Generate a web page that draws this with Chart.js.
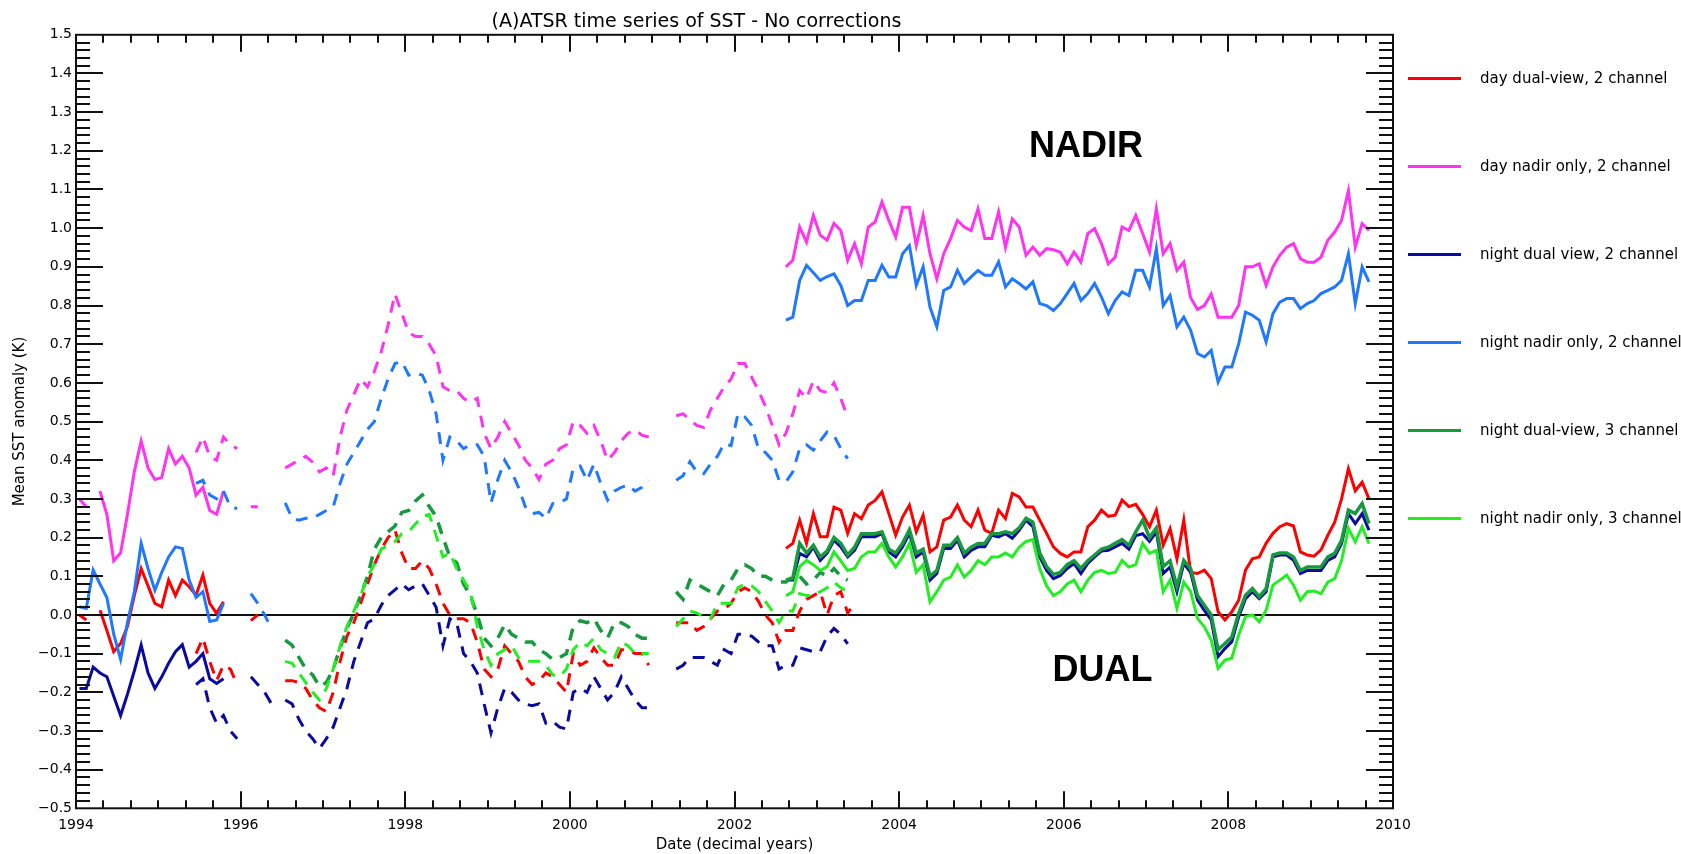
<!DOCTYPE html>
<html>
<head>
<meta charset="utf-8">
<title>(A)ATSR time series of SST - No corrections</title>
<script src="https://cdn.jsdelivr.net/npm/chart.js@4.4.1/dist/chart.umd.min.js"></script>
<style>
    html, body { margin: 0; padding: 0; background: #fff; }
    #wrap { position: relative; width: 1681px; height: 854px; }
    #chart { position: absolute; left: 0; top: 0; }
    .item { position: absolute; left: 1408px; display: flex; align-items: center; transform: translateY(-50%); }
    .swatch { width: 53px; height: 3px; margin-right: 19px; }
    .txt { font: 15px "DejaVu Sans", sans-serif; color: #000; white-space: nowrap; }
</style>
</head>
<body>
<div id="wrap">
    <canvas id="chart" width="1681" height="854"></canvas>
    <div id="legend"></div>
</div>
<script>
// series names and colours, in legend order
const seriesNames = [
    'day dual-view, 2 channel',
    'day nadir only, 2 channel',
    'night dual view, 2 channel',
    'night nadir only, 2 channel',
    'night dual-view, 3 channel',
    'night nadir only, 3 channel'
];
const seriesColors = ['#ff0000', '#ff33f0', '#0a0a9e', '#1f78ff', '#17993f', '#22ee22'];

// ATSR-1, monthly from Jan 1994 (22 months)
const dayDual1 = [0.0, -0.013, null, 0.012, -0.04, -0.095, -0.074, -0.03, 0.05, 0.12, 0.075, 0.03,
    0.021, 0.09, 0.05, 0.09, 0.073, 0.051, 0.103, 0.03, 0.004, 0.034];
const dayNadir1 = [0.30, 0.28, null, 0.32, 0.26, 0.14, 0.16, 0.26, 0.37, 0.45, 0.38, 0.35,
    0.355, 0.43, 0.39, 0.41, 0.38, 0.31, 0.33, 0.27, 0.26, 0.32];
const nightDual1 = [-0.19, -0.19, -0.135, -0.15, -0.16, -0.21, -0.26, -0.205, -0.145, -0.078, -0.15, -0.19,
    -0.16, -0.125, -0.095, -0.077, -0.135, -0.12, -0.10, -0.165, -0.177, -0.165];
const nightNadir1 = [0.021, 0.017, 0.116, 0.08, 0.045, -0.05, -0.115, -0.02, 0.06, 0.185, 0.12, 0.064,
    0.11, 0.15, 0.176, 0.172, 0.09, 0.045, 0.06, -0.017, -0.013, 0.03];

// ATSR-2, monthly from Jun 1995 to Jun 2003 (97 months)
const dayDual2 = [
    -0.10, -0.06, -0.12, -0.17, -0.13, -0.14, -0.18,
    null, -0.015, 0.0, null, null, null, -0.17, -0.17, -0.175, -0.19, -0.22, -0.24,
    -0.25, -0.20, -0.12, -0.055, -0.02, 0.03, 0.08, 0.13, 0.17, 0.20, 0.22, 0.16,
    0.12, 0.12, 0.14, 0.12, 0.08, 0.03, 0.0, -0.01, -0.01, -0.02, -0.07, -0.14,
    -0.16, -0.14, -0.08, -0.10, -0.12, -0.16, -0.18, -0.17, -0.15, -0.16, -0.18, -0.20,
    -0.10, -0.13, -0.12, -0.085, -0.11, -0.13, -0.13, -0.09, -0.09, -0.10, -0.10, -0.13,
    null, null, null, -0.02, -0.02, -0.02, -0.04, -0.03, -0.01, 0.01, 0.015, 0.03,
    0.06, 0.07, 0.06, 0.035, 0.0, -0.02, -0.07, -0.04, -0.04, 0.01, 0.04, 0.05,
    0.06, 0.0, 0.05, 0.06, 0.005, 0.03
];
const dayNadir2 = [
    0.42, 0.46, 0.41, 0.40, 0.46, 0.44, 0.43,
    null, 0.28, 0.28, null, null, null, 0.38, 0.39, 0.40, 0.41, 0.395, 0.37,
    0.38, 0.36, 0.46, 0.53, 0.57, 0.61, 0.59, 0.63, 0.68, 0.75, 0.83, 0.78,
    0.73, 0.72, 0.72, 0.70, 0.67, 0.59, 0.58, 0.58, 0.56, 0.55, 0.56, 0.47,
    0.43, 0.46, 0.50, 0.47, 0.44, 0.40, 0.38, 0.35, 0.39, 0.40, 0.43, 0.44,
    0.50, 0.49, 0.47, 0.49, 0.45, 0.40, 0.42, 0.45, 0.47, 0.478, 0.465, 0.46,
    null, null, null, 0.515, 0.52, 0.505, 0.49, 0.485, 0.53, 0.56, 0.59, 0.61,
    0.65, 0.65, 0.615, 0.58, 0.54, 0.49, 0.44, 0.47, 0.52, 0.58, 0.56, 0.605,
    0.58, 0.575, 0.60, 0.56, 0.51, null
];
const nightDual2 = [
    -0.18, -0.165, -0.24, -0.28, -0.26, -0.30, -0.32,
    null, -0.16, -0.18, -0.20, -0.23, null, -0.22, -0.23, -0.27, -0.30, -0.32, -0.345,
    -0.32, -0.29, -0.24, -0.19, -0.12, -0.07, -0.02, -0.01, 0.025, 0.05, 0.065, 0.08,
    0.065, 0.075, 0.08, 0.05, 0.02, -0.08, -0.01, -0.02, -0.10, -0.12, -0.15, -0.23,
    -0.305, -0.24, -0.19, -0.20, -0.22, -0.23, -0.235, -0.23, -0.28, -0.275, -0.29, -0.295,
    -0.20, -0.19, -0.20, -0.16, -0.19, -0.22, -0.20, -0.16, -0.19, -0.22, -0.24, -0.24,
    null, null, null, -0.14, -0.13, -0.11, -0.11, -0.11, -0.12, -0.13, -0.09, -0.10,
    -0.05, -0.05, -0.055, -0.07, -0.08, -0.08, -0.14, -0.13, -0.13, -0.085, -0.09, -0.095,
    -0.095, -0.055, -0.035, -0.05, -0.075, null
];
const nightNadir2 = [
    0.34, 0.348, 0.31, 0.30, 0.32, 0.28, 0.275,
    null, 0.055, 0.03, 0.0, -0.035, null, 0.29, 0.25, 0.245, 0.25, 0.25, 0.26,
    0.27, 0.28, 0.34, 0.39, 0.42, 0.45, 0.48, 0.50, 0.56, 0.61, 0.65, 0.655,
    0.62, 0.625, 0.62, 0.58, 0.52, 0.40, 0.46, 0.45, 0.43, 0.44, 0.44, 0.41,
    0.29, 0.35, 0.40, 0.37, 0.33, 0.28, 0.262, 0.265, 0.25, 0.288, 0.29, 0.30,
    0.38, 0.385, 0.348, 0.39, 0.34, 0.297, 0.32, 0.33, 0.336, 0.32, 0.33, 0.348,
    null, null, null, 0.348, 0.36, 0.396, 0.37, 0.365, 0.39, 0.41, 0.443, 0.438,
    0.52, 0.512, 0.49, 0.43, 0.42, 0.40, 0.348, 0.344, 0.37, 0.43, 0.44, 0.426,
    0.45, 0.473, 0.464, 0.43, 0.404, null
];
const nightDual3ch2 = [
    null, null, null, null, null, null, null,
    null, null, null, null, null, null, -0.065, -0.078, -0.11, -0.14, -0.155, -0.185,
    -0.175, -0.14, -0.085, -0.035, 0.005, 0.05, 0.10, 0.17, 0.20, 0.215, 0.23, 0.265,
    0.27, 0.295, 0.31, 0.28, 0.255, 0.20, 0.15, 0.135, 0.08, 0.05, 0.0, -0.06,
    -0.08, -0.06, -0.025, -0.05, -0.06, -0.07, -0.07, -0.09, -0.10, -0.115, -0.11, -0.10,
    -0.03, -0.015, -0.02, -0.01, -0.04, -0.06, -0.02, -0.02, -0.03, -0.05, -0.06, -0.06,
    null, null, null, 0.06, 0.04, 0.09, 0.08, 0.07, 0.06, 0.05, 0.08, 0.09,
    0.12, 0.13, 0.12, 0.10, 0.10, 0.09, 0.085, 0.085, 0.10, 0.10, 0.08, 0.09,
    0.11, 0.10, 0.12, 0.10, 0.09, null
];
const nightNadir3ch2 = [
    null, null, null, null, null, null, null,
    null, null, null, null, null, null, -0.12, -0.125, -0.15, -0.175, -0.20, -0.22,
    -0.19, -0.14, -0.08, -0.03, 0.01, 0.05, 0.10, 0.13, 0.17, 0.18, 0.19, 0.21,
    0.215, 0.235, 0.255, 0.26, 0.205, 0.15, 0.16, 0.12, 0.09, 0.06, -0.03, -0.09,
    -0.13, -0.10, -0.09, -0.08, -0.11, -0.12, -0.12, -0.12, -0.13, -0.155, -0.16, -0.14,
    -0.09, -0.07, -0.08, -0.06, -0.09, -0.10, -0.11, -0.07, -0.08, -0.10, -0.10, -0.10,
    null, null, null, -0.03, -0.01, 0.01, 0.005, -0.005, -0.01, 0.03, 0.03, 0.03,
    0.07, 0.08, 0.075, 0.06, 0.035, 0.01, -0.02, 0.01, 0.01, 0.055, 0.05, 0.05,
    0.06, 0.07, 0.085, 0.07, 0.06, null
];

// AATSR, monthly from Aug 2002 to Sep 2009 (86 months)
const dayDual3 = [
    0.172, 0.185, 0.245, 0.185, 0.262,
    0.202, 0.202, 0.279, 0.271, 0.211, 0.262, 0.249, 0.284, 0.296, 0.318, 0.262, 0.206,
    0.253, 0.284, 0.215, 0.258, 0.163, 0.176, 0.245, 0.253, 0.284, 0.245, 0.228, 0.271,
    0.219, 0.211, 0.271, 0.249, 0.314, 0.305, 0.279, 0.279, 0.245, 0.211, 0.176, 0.159,
    0.15, 0.163, 0.163, 0.228, 0.245, 0.271, 0.255, 0.258, 0.297, 0.28, 0.286, 0.26,
    0.228, 0.271, 0.18, 0.223, 0.145, 0.245, 0.11, 0.107, 0.116, 0.094, 0.008, -0.013,
    0.008, 0.038, 0.116, 0.145, 0.15, 0.185, 0.211, 0.228, 0.236, 0.23, 0.163, 0.155,
    0.152, 0.168, 0.206, 0.24, 0.30, 0.378, 0.321, 0.343, 0.30
];
const dayNadir3 = [
    0.90, 0.917, 1.003, 0.964, 1.033,
    0.982, 0.969, 1.012, 0.994, 0.917, 0.96, 0.908, 1.003, 1.016, 1.068, 1.02, 0.977,
    1.054, 1.054, 0.955, 1.033, 0.934, 0.869, 0.934, 0.973, 1.02, 1.003, 0.994, 1.05,
    0.973, 0.973, 1.042, 0.951, 1.024, 1.003, 0.93, 0.951, 0.93, 0.947, 0.944, 0.938,
    0.908, 0.938, 0.912, 0.986, 0.999, 0.96, 0.908, 0.925, 1.003, 0.994, 1.033, 0.986,
    0.938, 1.05, 0.934, 0.96, 0.891, 0.912, 0.82, 0.79, 0.80, 0.83, 0.77, 0.77,
    0.77, 0.80, 0.90, 0.90, 0.908, 0.852, 0.90, 0.93, 0.951, 0.96, 0.921, 0.912,
    0.912, 0.925, 0.969, 0.99, 1.02, 1.097, 0.951, 1.012, 0.994
];
const nightDual3 = [
    0.09, 0.09, 0.159, 0.15, 0.175,
    0.141, 0.16, 0.193, 0.176, 0.15, 0.167, 0.202, 0.202, 0.202, 0.21, 0.163, 0.15,
    0.176, 0.211, 0.15, 0.163, 0.09, 0.107, 0.172, 0.172, 0.193, 0.15, 0.167, 0.176,
    0.176, 0.206, 0.202, 0.21, 0.198, 0.219, 0.245, 0.228, 0.15, 0.115, 0.094, 0.102,
    0.12, 0.133, 0.107, 0.133, 0.15, 0.165, 0.167, 0.176, 0.185, 0.17, 0.205, 0.21,
    0.19, 0.215, 0.107, 0.124, 0.06, 0.133, 0.11, 0.038, 0.012, -0.013, -0.108, -0.087,
    -0.069, -0.005, 0.042, 0.06, 0.042, 0.06, 0.15, 0.155, 0.155, 0.141, 0.107, 0.115,
    0.115, 0.115, 0.141, 0.15, 0.185, 0.262, 0.236, 0.262, 0.219
];
const nightNadir3 = [
    0.762, 0.770, 0.865, 0.904, 0.885,
    0.865, 0.875, 0.882, 0.852, 0.80, 0.813, 0.813, 0.865, 0.865, 0.904, 0.874, 0.874,
    0.934, 0.955, 0.852, 0.90, 0.796, 0.745, 0.839, 0.848, 0.891, 0.857, 0.874, 0.891,
    0.878, 0.878, 0.913, 0.848, 0.869, 0.857, 0.843, 0.861, 0.805, 0.80, 0.787, 0.805,
    0.831, 0.857, 0.813, 0.831, 0.857, 0.822, 0.779, 0.813, 0.835, 0.826, 0.891, 0.891,
    0.848, 0.947, 0.80, 0.826, 0.745, 0.77, 0.736, 0.676, 0.667, 0.684, 0.602, 0.641,
    0.641, 0.701, 0.783, 0.775, 0.762, 0.706, 0.779, 0.809, 0.818, 0.818, 0.792, 0.805,
    0.813, 0.831, 0.839, 0.848, 0.865, 0.934, 0.805, 0.90, 0.861
];
const nightDual3ch3 = [
    0.09, 0.095, 0.185, 0.16, 0.18,
    0.15, 0.165, 0.20, 0.185, 0.155, 0.175, 0.21, 0.21, 0.21, 0.215, 0.17, 0.16,
    0.185, 0.22, 0.16, 0.17, 0.10, 0.115, 0.18, 0.18, 0.20, 0.16, 0.175, 0.185,
    0.185, 0.21, 0.21, 0.215, 0.21, 0.225, 0.25, 0.24, 0.16, 0.125, 0.105, 0.11,
    0.13, 0.14, 0.12, 0.14, 0.155, 0.17, 0.175, 0.185, 0.195, 0.18, 0.215, 0.245,
    0.20, 0.225, 0.125, 0.14, 0.073, 0.141, 0.12, 0.05, 0.025, 0.0, -0.09, -0.074,
    -0.057, 0.004, 0.051, 0.068, 0.047, 0.068, 0.155, 0.16, 0.16, 0.15, 0.115, 0.124,
    0.124, 0.124, 0.15, 0.159, 0.193, 0.271, 0.262, 0.288, 0.236
];
const nightNadir3ch3 = [
    0.05, 0.06, 0.125, 0.141, 0.13,
    0.115, 0.125, 0.163, 0.14, 0.115, 0.12, 0.15, 0.163, 0.163, 0.185, 0.15, 0.124,
    0.15, 0.185, 0.11, 0.13, 0.034, 0.06, 0.09, 0.098, 0.129, 0.098, 0.115, 0.14,
    0.13, 0.15, 0.15, 0.16, 0.15, 0.175, 0.19, 0.195, 0.12, 0.075, 0.05, 0.06,
    0.08, 0.09, 0.06, 0.09, 0.11, 0.115, 0.107, 0.11, 0.141, 0.124, 0.13, 0.185,
    0.159, 0.167, 0.06, 0.09, 0.017, 0.085, 0.06, -0.009, -0.031, -0.065, -0.138, -0.117,
    -0.112, -0.052, -0.005, 0.0, -0.018, 0.012, 0.077, 0.09, 0.103, 0.077, 0.038, 0.06,
    0.062, 0.055, 0.085, 0.094, 0.14, 0.224, 0.189, 0.228, 0.184
];

// axis range and tick labels
const xMin = 1994, xMax = 2010, xStep = 2;
const yMin = -0.5, yMax = 1.5, yStep = 0.1;

// mid-month decimal years
function monthly(year, month, count) {
    const out = [];
    for (let i = 0; i < count; i++) {
        out.push(year + (month - 1 + i + 0.5) / 12);
    }
    return out;
}

const periods = [
    { months: monthly(1994, 1, 22), dash: [], values: [dayDual1, dayNadir1, nightDual1, nightNadir1, null, null] },
    { months: monthly(1995, 6, 97), dash: [12, 9], values: [dayDual2, dayNadir2, nightDual2, nightNadir2, nightDual3ch2, nightNadir3ch2] },
    { months: monthly(2002, 8, 86), dash: [], values: [dayDual3, dayNadir3, nightDual3, nightNadir3, nightDual3ch3, nightNadir3ch3] }
];

const datasets = [];
periods.forEach(p => {
    p.values.forEach((vals, si) => {
        if (!vals) return;
        datasets.push({
            label: seriesNames[si],
            data: p.months.map((m, i) => ({ x: m, y: vals[i] })),
            borderColor: seriesColors[si],
            borderWidth: si === 4 ? 3.5 : 3,
            borderDash: p.dash,
            pointRadius: 0,
            spanGaps: false,
            tension: 0,
            fill: false,
            order: 10 - si
        });
    });
});

// text tags placed in data coordinates
const tags = [
    { text: 'NADIR', x: 2006.27, y: 1.21 },
    { text: 'DUAL', x: 2006.47, y: -0.145 }
];

// zero line, box with inward ticks, and the NADIR / DUAL tags
const framePlugin = {
    id: 'frame',
    beforeDatasetsDraw(chart) {
        const { ctx, chartArea: a, scales: { y } } = chart;
        const y0 = y.getPixelForValue(0);
        ctx.save();
        ctx.strokeStyle = '#111';
        ctx.lineWidth = 2;
        ctx.beginPath();
        ctx.moveTo(a.left, y0);
        ctx.lineTo(a.right, y0);
        ctx.stroke();
        ctx.restore();
    },
    afterDatasetsDraw(chart) {
        const { ctx, chartArea: a, scales: { x, y } } = chart;
        ctx.save();
        ctx.strokeStyle = '#111';
        ctx.lineWidth = 2;
        ctx.strokeRect(a.left, a.top, a.right - a.left, a.bottom - a.top);
        ctx.beginPath();
        for (let i = 1; i < 48; i++) {
            const px = Math.round(x.getPixelForValue(xMin + i / 3));
            const len = i % 6 === 0 ? 17 : 8;
            ctx.moveTo(px, a.bottom); ctx.lineTo(px, a.bottom - len);
            ctx.moveTo(px, a.top); ctx.lineTo(px, a.top + len);
        }
        for (let i = 1; i < 100; i++) {
            const py = Math.round(y.getPixelForValue(yMin + i * 0.02));
            const len = i % 5 === 0 ? 27 : 14;
            ctx.moveTo(a.left, py); ctx.lineTo(a.left + len, py);
            ctx.moveTo(a.right, py); ctx.lineTo(a.right - len, py);
        }
        ctx.stroke();

        ctx.fillStyle = '#000';
        ctx.font = 'bold 36px "Liberation Sans", Arial, sans-serif';
        ctx.textAlign = 'center';
        ctx.textBaseline = 'middle';
        tags.forEach(t => {
            ctx.fillText(t.text, x.getPixelForValue(t.x), y.getPixelForValue(t.y));
        });
        ctx.restore();
    }
};

Chart.defaults.font.family = '"DejaVu Sans", sans-serif';
Chart.defaults.color = '#000';

const ctx = document.getElementById('chart').getContext('2d');
const chart = new Chart(ctx, {
    type: 'line',
    data: { datasets: datasets },
    plugins: [framePlugin],
    options: {
        responsive: false,
        animation: false,
        layout: { padding: { left: 0, right: 288, top: 0, bottom: 0 } },
        plugins: {
            legend: { display: false },
            tooltip: { enabled: false },
            title: {
                display: true,
                text: '(A)ATSR time series of SST - No corrections',
                font: { size: 19, weight: 'normal' },
                color: '#000',
                padding: { top: 11, bottom: 1 }
            }
        },
        scales: {
            x: {
                type: 'linear',
                min: xMin,
                max: xMax,
                afterFit: s => { s.height = 45.7; },
                grid: { display: false, drawTicks: false },
                border: { display: false },
                ticks: {
                    stepSize: xStep,
                    autoSkip: false,
                    maxRotation: 0,
                    padding: 9,
                    font: { size: 14 },
                    callback: v => String(v)
                },
                title: {
                    display: true,
                    text: 'Date (decimal years)',
                    font: { size: 15 },
                    padding: { top: 0, bottom: 0 }
                }
            },
            y: {
                type: 'linear',
                min: yMin,
                max: yMax,
                afterFit: s => { s.width = 76; },
                grid: { display: false, drawTicks: false },
                border: { display: false },
                ticks: {
                    stepSize: yStep,
                    autoSkip: false,
                    padding: 4,
                    font: { size: 14 },
                    callback: v => (Math.abs(v) < 1e-9 ? '0.0' : v.toFixed(1)).replace('-', '\u2212')
                },
                title: {
                    display: true,
                    text: 'Mean SST anomaly (K)',
                    font: { size: 15 },
                    padding: { top: 11, bottom: 0 }
                }
            }
        }
    }
});

// legend at the right, built from the same names and colours
const legendBox = document.getElementById('legend');
seriesNames.forEach((name, i) => {
    const row = document.createElement('div');
    row.className = 'item';
    row.style.top = (78 + i * 88) + 'px';
    row.innerHTML = `<span class="swatch" style="background:${seriesColors[i]}"></span><span class="txt">${name}</span>`;
    legendBox.appendChild(row);
});
</script>
</body>
</html>
